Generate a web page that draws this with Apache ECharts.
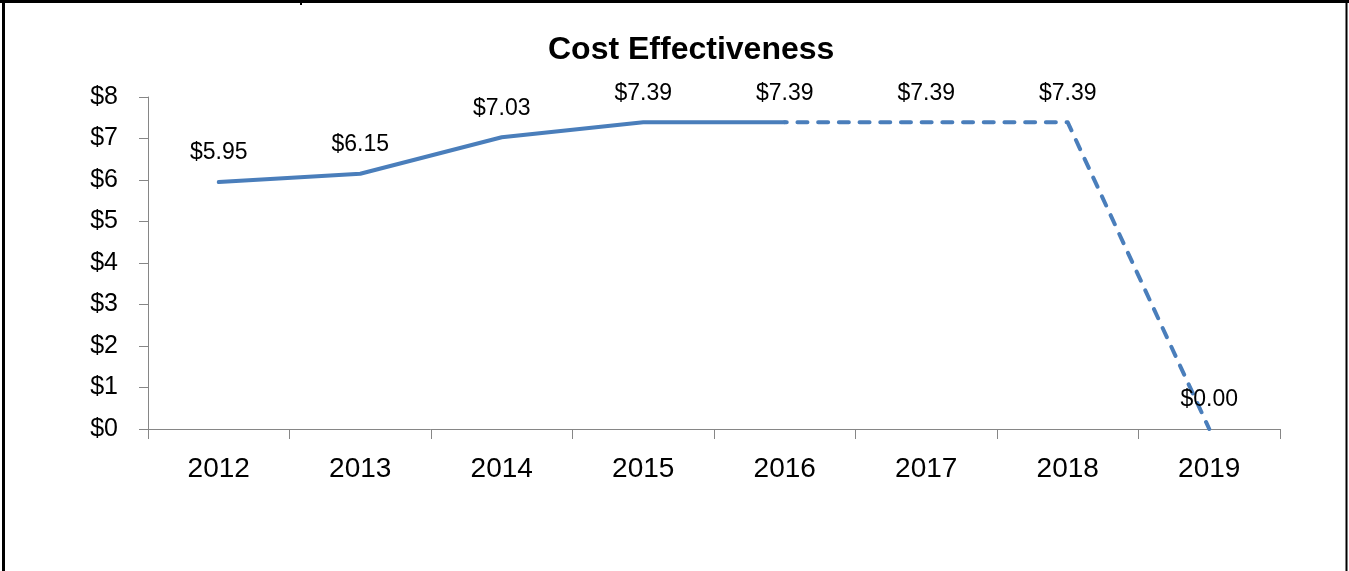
<!DOCTYPE html>
<html>
<head>
<meta charset="utf-8">
<script src="https://cdn.jsdelivr.net/npm/echarts@6/dist/echarts.min.js"></script>
<style>
html,body{margin:0;padding:0;background:#fff;}
#chart{width:1349px;height:571px;}
</style>
</head>
<body>
<div id="chart"></div>
<script>
var years = ['2012','2013','2014','2015','2016','2017','2018','2019'];
var actualValues = [5.95, 6.15, 7.03, 7.39, 7.39, null, null, null];
var projectedValues = [null, null, null, null, 7.39, 7.39, 7.39, 0.00];
var yTicks = [0, 1, 2, 3, 4, 5, 6, 7, 8];

var FONT = 'Liberation Sans';
var BLUE = '#4a7ebb';
var labelStyle = {
  show: true, position: 'top', distance: 17,
  fontFamily: FONT, fontSize: 23, color: '#000',
  formatter: function (p) { return '$' + Number(p.value).toFixed(2); }
};

var projectedData = projectedValues.map(function (v, i) {
  if (v === null) return null;
  // value at the join point is already labelled by the actual series
  if (actualValues[i] !== null) return { value: v, label: { show: false } };
  return v;
});

var chart = echarts.init(document.getElementById('chart'), null, { renderer: 'canvas' });
chart.setOption({
  animation: false,
  backgroundColor: '#fff',
  title: {
    text: 'Cost Effectiveness', left: 548, top: 34, padding: 0,
    textStyle: { fontFamily: FONT, fontSize: 32, fontWeight: 'bold', color: '#000' }
  },
  grid: { left: 148, right: 69, top: 97, bottom: 142, containLabel: false },
  xAxis: {
    type: 'category', data: years, boundaryGap: true,
    axisLine: { lineStyle: { color: '#868686', width: 1 } },
    axisTick: { show: true, length: 10, alignWithLabel: false, lineStyle: { color: '#868686' } },
    axisLabel: { margin: 26, fontFamily: FONT, fontSize: 28, color: '#000' },
    splitLine: { show: false }
  },
  yAxis: {
    type: 'value', min: yTicks[0], max: yTicks[yTicks.length - 1], interval: 1,
    axisLine: { show: true, lineStyle: { color: '#868686', width: 1 } },
    axisTick: { show: true, length: 9, lineStyle: { color: '#868686' } },
    axisLabel: { margin: 30, fontFamily: FONT, fontSize: 25, color: '#000',
      formatter: function (v) { return '$' + v; } },
    splitLine: { show: false }
  },
  series: [
    {
      name: 'Actual', type: 'line', data: actualValues, showSymbol: true, symbol: 'circle', symbolSize: 1,
      itemStyle: { color: 'rgba(0,0,0,0)' },
      connectNulls: false,
      lineStyle: { color: BLUE, width: 4, cap: 'round', join: 'round' },
      label: labelStyle, z: 3
    },
    {
      name: 'Projected', type: 'line', data: projectedData, showSymbol: true, symbol: 'circle', symbolSize: 1,
      itemStyle: { color: 'rgba(0,0,0,0)' },
      connectNulls: false,
      lineStyle: { color: BLUE, width: 4, type: [10, 10.7], dashOffset: 8, cap: 'round', join: 'round' },
      label: labelStyle, z: 2
    }
  ],
  graphic: [
    { type: 'line', shape: { x1: 0, y1: 1.5, x2: 1349, y2: 1.5 }, style: { stroke: '#000', lineWidth: 3 } },
    { type: 'line', shape: { x1: 3.5, y1: 0, x2: 3.5, y2: 571 }, style: { stroke: '#000', lineWidth: 3 } },
    { type: 'line', shape: { x1: 1346.5, y1: 0, x2: 1346.5, y2: 571 }, style: { stroke: '#000', lineWidth: 2 } },
    { type: 'line', shape: { x1: 301, y1: 0, x2: 301, y2: 5 }, style: { stroke: '#000', lineWidth: 2 } }
  ]
});
</script>
</body>
</html>
